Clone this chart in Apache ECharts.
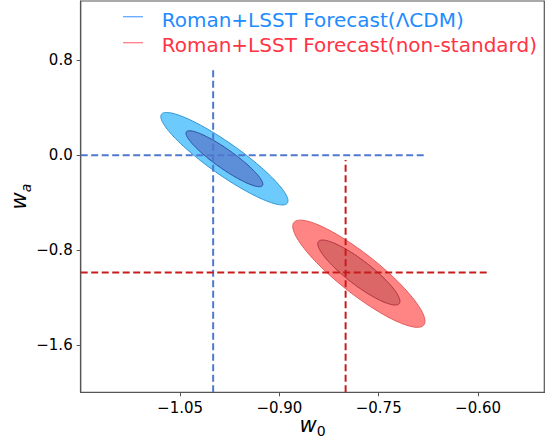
<!DOCTYPE html>
<html>
<head>
<meta charset="utf-8">
<script src="https://cdn.jsdelivr.net/npm/echarts@6/dist/echarts.min.js"></script>
<style>
html,body{margin:0;padding:0;background:#fff;}
#chart{width:553px;height:441px;}
</style>
</head>
<body>
<div id="chart"></div>
<script>
// ---- data ----
const legendLabels = ['Roman+LSST Forecast(\u039bCDM)', 'Roman+LSST Forecast(non-standard)'];
const xTicks = [-1.05, -0.90, -0.75, -0.60];
const yTicks = [-1.6, -0.8, 0.0, 0.8];
// confidence contours: [centre w0, centre wa, half-extent w0, half-extent wa, correlation]
const lcdmOuter = [-0.983, -0.030, 0.096, 0.390, -0.91];
const lcdmInner = [-0.983, -0.030, 0.058, 0.236, -0.91];
const nonstdOuter = [-0.780, -1.000, 0.0998, 0.452, -0.885];
const nonstdInner = [-0.780, -0.990, 0.062, 0.274, -0.885];
// fiducial dashed lines: [[w0, wa], [w0, wa]]
const lcdmVLine = [[-1.0, -2.0], [-1.0, 0.72]];
const lcdmHLine = [[-1.2, 0.0], [-0.68, 0.0]];
const nonstdVLine = [[-0.8, -2.0], [-0.8, -0.04]];
const nonstdHLine = [[-1.2, -0.99], [-0.586, -0.99]];

const FONT = 'DejaVu Sans';
const fmtMinus = s => s.replace('-', '\u2212');

function ellipseSeries(item, fill, stroke, z) {
  return {
    type: 'custom',
    data: [item],
    z: z,
    silent: true,
    clip: true,
    renderItem: function (params, api) {
      const cx = api.value(0), cy = api.value(1), hx = api.value(2), hy = api.value(3), r = api.value(4);
      const s = Math.sqrt(1 - r * r);
      const pts = [];
      const N = 180;
      for (let k = 0; k < N; k++) {
        const t = 2 * Math.PI * k / N;
        const c = Math.cos(t), sn = Math.sin(t);
        pts.push(api.coord([cx + hx * c, cy + hy * (r * c + s * sn)]));
      }
      return {
        type: 'polygon',
        shape: { points: pts },
        style: { fill: fill, stroke: stroke, lineWidth: 1 }
      };
    },
    encode: { x: 0, y: 1 }
  };
}

function dashSeries(pts, color) {
  return {
    type: 'line',
    data: pts,
    symbol: 'none',
    z: 10,
    silent: true,
    lineStyle: { color: color, width: 2, type: [7, 3.5] },
    animation: false
  };
}

const chart = echarts.init(document.getElementById('chart'), null, { renderer: 'svg' });
chart.setOption({
  animation: false,
  backgroundColor: '#fff',
  grid: {
    left: 80.7, right: 8.7, top: 1, bottom: 48.7,
    containLabel: false, outerBoundsMode: 'none',
    show: true, borderColor: '#555', borderWidth: 1.2, backgroundColor: 'transparent'
  },
  xAxis: {
    type: 'value', min: -1.2, max: -0.5,
    splitLine: { show: false },
    axisLine: { show: true, onZero: false, lineStyle: { color: '#555', width: 1.2 } },
    axisTick: { show: true, length: 4, customValues: xTicks, lineStyle: { color: '#555', width: 1 } },
    axisLabel: {
      customValues: xTicks, margin: 8, color: '#000', fontSize: 15, fontFamily: FONT,
      formatter: v => fmtMinus(v.toFixed(2))
    },
    name: '{w|w}{s|0}',
    nameLocation: 'middle', nameGap: 22, nameMoveOverlap: false,
    nameTextStyle: {
      rich: {
        w: { fontFamily: FONT, fontStyle: 'italic', fontSize: 21, color: '#000', verticalAlign: 'top', lineHeight: 24 },
        s: { fontFamily: FONT, fontSize: 14, color: '#000', verticalAlign: 'bottom', lineHeight: 24 }
      }
    }
  },
  yAxis: {
    type: 'value', min: -2.0, max: 1.3,
    splitLine: { show: false },
    axisLine: { show: true, onZero: false, lineStyle: { color: '#555', width: 1.2 } },
    axisTick: { show: true, length: 4, customValues: yTicks, lineStyle: { color: '#555', width: 1 } },
    axisLabel: {
      customValues: yTicks, margin: 8, color: '#000', fontSize: 15, fontFamily: FONT,
      formatter: v => fmtMinus(v.toFixed(1))
    },
    name: '{w|w}{s|a}',
    nameLocation: 'middle', nameGap: 48, nameRotate: 90, nameMoveOverlap: false,
    nameTextStyle: {
      rich: {
        w: { fontFamily: FONT, fontStyle: 'italic', fontSize: 21, color: '#000', verticalAlign: 'top', lineHeight: 24 },
        s: { fontFamily: FONT, fontStyle: 'italic', fontSize: 14, color: '#000', verticalAlign: 'bottom', lineHeight: 24 }
      }
    }
  },
  series: [
    ellipseSeries(lcdmOuter, '#6ccafd', '#2f94d2', 2),
    ellipseSeries(lcdmInner, '#5d8ed8', '#2a4f9c', 3),
    ellipseSeries(nonstdOuter, '#ff8585', '#e05a5a', 2),
    ellipseSeries(nonstdInner, '#dc6767', '#a8343f', 3),
    dashSeries(lcdmVLine, '#4f78d0'),
    dashSeries(lcdmHLine, '#4f78d0'),
    dashSeries(nonstdVLine, '#c81c1c'),
    dashSeries(nonstdHLine, '#c81c1c')
  ],
  graphic: [
    { type: 'line', shape: { x1: 123, y1: 16.7, x2: 143, y2: 16.7 }, style: { stroke: '#64aaff', lineWidth: 1.3 }, z: 20 },
    { type: 'line', shape: { x1: 123, y1: 42.7, x2: 143, y2: 42.7 }, style: { stroke: '#ff8088', lineWidth: 1.3 }, z: 20 },
    { type: 'text', x: 161.7, y: 19.5, z: 20, style: { text: legendLabels[0], fill: '#1e8cff', font: '20px "DejaVu Sans"', verticalAlign: 'middle', align: 'left' } },
    { type: 'text', x: 161.7, y: 44.5, z: 20, style: { text: legendLabels[1], fill: '#ff3344', font: '20px "DejaVu Sans"', verticalAlign: 'middle', align: 'left' } }
  ]
});
</script>
</body>
</html>
